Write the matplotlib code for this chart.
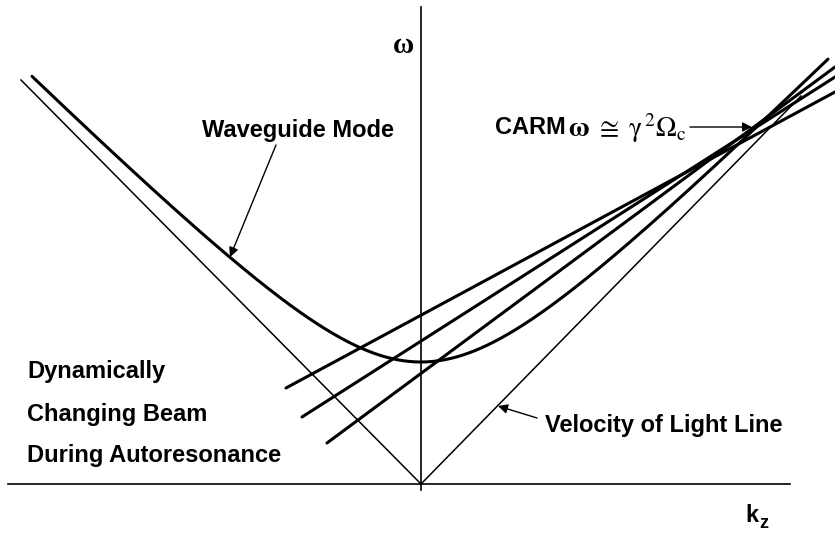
import numpy as np
import matplotlib
matplotlib.use('Agg')
import matplotlib.pyplot as plt

plt.rcParams['mathtext.fontset'] = 'stix'
sans = ['Liberation Sans Narrow', 'Liberation Sans', 'DejaVu Sans']

# waveguide mode: omega = sqrt(omega_c^2 + (c k)^2)
omega_cut = 1.22
c_light = 1.0
k_wave_min, k_wave_max = -3.89, 4.07

# light lines (k, omega)
light_left_k = [-4.00, 0.0]
light_left_w = [4.04, 0.0]
light_right_k = [0.0, 3.80]
light_right_w = [0.0, 3.88]

# beam lines, start and end points (k, omega)
beam_k0 = [-1.35, -1.19, -0.94]
beam_w0 = [0.96, 0.67, 0.41]
beam_k1 = [4.14, 4.14, 4.14]
beam_w1 = [3.92, 4.07, 4.17]

fig = plt.figure(figsize=(8.35, 5.35), dpi=100)
ax = fig.add_axes([0, 0, 1, 1])
ax.set_xlim(-4.21, 4.14)
ax.set_ylim(-0.51, 4.84)
ax.axis('off')

# axes
ax.plot([-4.13, 3.69], [0, 0], color='black', lw=1.2)
ax.plot([0, 0], [-0.06, 4.77], color='black', lw=1.2)

# light lines
ax.plot(light_left_k, light_left_w, color='black', lw=1.1)
ax.plot(light_right_k, light_right_w, color='black', lw=1.1)

# waveguide mode
k = np.linspace(k_wave_min, k_wave_max, 400)
ax.plot(k, np.sqrt(omega_cut**2 + (c_light * k)**2), color='black', lw=2.2,
        solid_capstyle='round')

# beam lines
for i in range(len(beam_k0)):
    ax.plot([beam_k0[i], beam_k1[i]], [beam_w0[i], beam_w1[i]],
            color='black', lw=2.2, solid_capstyle='round')

fs = 17
arrow = dict(arrowstyle='-|>', lw=1.0, color='black', mutation_scale=14,
             shrinkA=0, shrinkB=0)

# labels
ax.text(-0.17, 4.38, 'ω', fontsize=21, fontweight='bold',
        family=['Liberation Serif', 'DejaVu Serif'], ha='center', va='center')
ax.text(-2.19, 3.47, 'Waveguide Mode', fontsize=fs, fontweight='bold',
        family=sans, ha='left', va='baseline')
ax.annotate('', xy=(-1.91, 2.27), xytext=(-1.45, 3.39), arrowprops=arrow)

ax.text(1.45, 3.56, 'CARM', fontsize=fs, fontweight='bold',
        family=sans, ha='right', va='center')
ax.text(2.66, 3.56, r'$\mathbf{\omega}\ \cong\ \mathrm{\gamma^{\,2}\Omega_{c}}$',
        fontsize=20, ha='right', va='center')
ax.annotate('', xy=(3.31, 3.57), xytext=(2.69, 3.57), arrowprops=arrow)

beam_text = ['Dynamically', 'Changing Beam', 'During Autoresonance']
beam_y = [1.06, 0.633, 0.223]
for t, y in zip(beam_text, beam_y):
    ax.text(-3.94, y, t, fontsize=fs, fontweight='bold', family=sans,
            ha='left', va='baseline')

ax.text(1.24, 0.52, 'Velocity of Light Line', fontsize=fs, fontweight='bold',
        family=sans, ha='left', va='baseline')
ax.annotate('', xy=(0.77, 0.78), xytext=(1.16, 0.66), arrowprops=arrow)

ax.text(3.24, -0.38, 'k', fontsize=fs, fontweight='bold', family=sans,
        ha='left', va='baseline')
ax.text(3.38, -0.44, 'z', fontsize=13, fontweight='bold', family=sans,
        ha='left', va='baseline')

fig.savefig('out.png', dpi=100)
